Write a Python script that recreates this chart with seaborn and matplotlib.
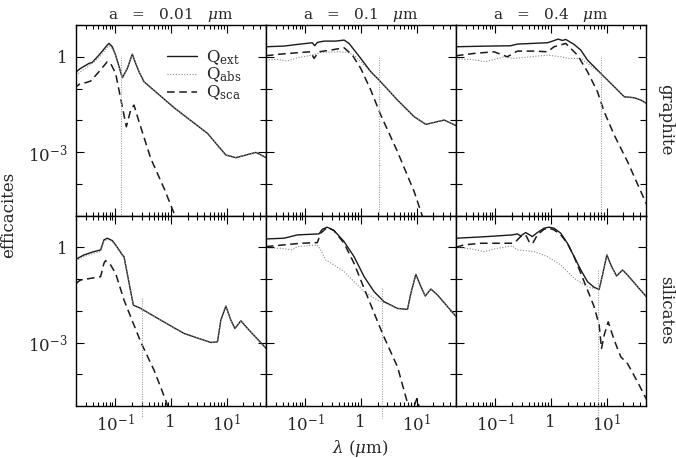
import numpy as np
import matplotlib
matplotlib.use("Agg")
import matplotlib.pyplot as plt
import matplotlib.transforms as mtrans
from matplotlib.lines import Line2D
from matplotlib.ticker import FixedLocator, FixedFormatter, LogLocator, NullFormatter
import seaborn as sns

# ---------------- data: log10(lambda / um) and log10(Q) ----------------
# graphite, a = 0.01 um
g1_ext_lx = [-1.737,-1.617,-1.467,-1.407,-1.287,-1.138,-1.108,-1.048,-0.988,-0.868,-0.778,-0.689,-0.629,-0.569,-0.479,0.060,0.659,0.988,1.168,1.347,1.527,1.713]
g1_ext_ly = [-0.525,-0.367,-0.210,-0.178,0.052,0.367,0.420,0.315,0.052,-0.661,-0.367,0.084,-0.210,-0.472,-0.787,-1.605,-2.413,-3.095,-3.179,-3.095,-3.012,-3.179]
g1_abs_lx = [-1.737,-1.617,-1.467,-1.287,-1.138,-1.108,-1.048,-0.988,-0.868,-0.778,-0.689,-0.629,-0.569,-0.479,0.060,0.659,0.988,1.168,1.347,1.527,1.713]
g1_abs_ly = [-0.630,-0.472,-0.283,-0.031,0.283,0.346,0.262,0.031,-0.672,-0.372,0.079,-0.215,-0.477,-0.790,-1.605,-2.413,-3.095,-3.179,-3.095,-3.012,-3.179]
g1_sca_lx = [-1.737,-1.617,-1.527,-1.437,-1.287,-1.138,-1.078,-0.988,-0.898,-0.796,-0.719,-0.659,-0.569,-0.359,-0.120,0.060,0.120]
g1_sca_ly = [-0.997,-0.839,-0.818,-0.766,-0.472,-0.157,-0.210,-0.525,-1.312,-2.204,-1.679,-1.522,-2.046,-3.200,-4.145,-4.932,-5.247]

# graphite, a = 0.1 um
g2_ext_lx = [-1.70,-1.377,-1.138,-0.868,-0.826,-0.778,-0.659,-0.449,-0.299,-0.210,0.0,0.180,0.329,0.659,0.958,1.168,1.317,1.497,1.713]
g2_ext_ly = [0.315,0.336,0.388,0.441,0.346,0.451,0.493,0.493,0.525,0.420,-0.052,-0.472,-0.735,-1.364,-1.889,-2.130,-2.067,-1.994,-2.172]
g2_abs_lx = [-1.70,-1.497,-1.317,-1.138,-0.868,-0.719,-0.419,-0.240,-0.120,0.060,0.180,0.329,0.659,0.958,1.168,1.317,1.497,1.713]
g2_abs_ly = [-0.105,-0.084,-0.136,-0.031,0.052,0.136,0.157,0.136,0.052,-0.262,-0.493,-0.740,-1.364,-1.889,-2.130,-2.067,-1.994,-2.172]
g2_sca_lx = [-1.70,-1.437,-1.138,-0.898,-0.838,-0.749,-0.539,-0.299,-0.150,0.0,0.180,0.359,0.659,0.958,1.090,1.138]
g2_sca_ly = [0.031,0.084,0.126,0.157,-0.052,0.157,0.210,0.283,0.052,-0.367,-1.049,-1.836,-2.991,-4.250,-4.942,-5.194]

# graphite, a = 0.4 um
g3_ext_lx = [-1.70,-1.138,-0.719,-0.599,-0.060,0.0,0.132,0.210,0.269,0.419,0.539,0.659,0.898,1.138,1.317,1.497,1.617,1.713]
g3_ext_ly = [0.315,0.336,0.346,0.399,0.441,0.472,0.556,0.514,0.546,0.388,0.210,-0.105,-0.525,-0.944,-1.259,-1.291,-1.364,-1.469]
g3_abs_lx = [-1.70,-1.437,-1.168,-0.838,-0.659,-0.060,0.180,0.299,0.539,0.659,0.898,1.138,1.317,1.497,1.617,1.713]
g3_abs_ly = [-0.073,-0.084,-0.157,0.0,-0.052,0.052,0.0,-0.052,-0.052,-0.210,-0.530,-0.944,-1.259,-1.291,-1.364,-1.469]
g3_sca_lx = [-1.70,-1.377,-1.018,-0.778,-0.599,-0.299,-0.060,0.060,0.269,0.329,0.479,0.659,0.838,0.958,1.138,1.377,1.617,1.737]
g3_sca_ly = [0.031,0.105,0.157,0.0,0.178,0.178,0.157,0.315,0.420,0.315,0.052,-0.472,-1.102,-1.731,-2.466,-3.305,-4.250,-4.722]

# silicates, a = 0.01 um
s1_ext_lx = [-1.70,-1.557,-1.377,-1.257,-1.198,-1.138,-1.048,-0.988,-0.868,-0.838,-0.671,-0.539,-0.180,0.240,0.719,0.838,0.898,0.988,1.078,1.150,1.257,1.377,1.713]
s1_ext_ly = [-0.379,-0.242,-0.137,-0.084,0.232,0.284,0.211,0.074,-0.242,-0.295,-1.821,-1.926,-2.295,-2.716,-3.0,-2.979,-2.295,-1.853,-2.295,-2.558,-2.316,-2.558,-3.189]
s1_abs_lx = [-1.70,-1.557,-1.377,-1.257,-1.198,-1.138,-1.048,-0.988,-0.868,-0.838,-0.671,-0.539,-0.180,0.240,0.719,0.838,0.898,0.988,1.078,1.150,1.257,1.377,1.713]
s1_abs_ly = [-0.432,-0.295,-0.189,-0.137,0.179,0.253,0.179,0.053,-0.263,-0.300,-1.821,-1.926,-2.295,-2.716,-3.0,-2.979,-2.295,-1.853,-2.295,-2.558,-2.316,-2.558,-3.189]
s1_sca_lx = [-1.70,-1.617,-1.437,-1.257,-1.198,-1.168,-1.078,-0.988,-0.838,-0.539,-0.299,-0.090,-0.030]
s1_sca_ly = [-1.137,-1.032,-0.979,-0.926,-0.505,-0.421,-0.558,-0.821,-1.663,-2.979,-3.874,-4.821,-5.137]

# silicates, a = 0.1 um
s2_ext_lx = [-1.70,-1.377,-1.138,-0.749,-0.689,-0.599,-0.479,-0.299,-0.120,0.060,0.240,0.419,0.659,0.838,0.898,0.988,1.066,1.156,1.257,1.377,1.713]
s2_ext_ly = [0.263,0.284,0.389,0.421,0.568,0.632,0.526,0.179,-0.295,-0.926,-1.400,-1.716,-1.926,-1.958,-1.453,-0.853,-1.189,-1.537,-1.316,-1.505,-2.189]
s2_abs_lx = [-1.70,-1.437,-1.228,-1.138,-0.778,-0.719,-0.629,-0.479,-0.299,-0.120,0.060,0.299,0.419,0.659,0.838,0.898,0.988,1.066,1.156,1.257,1.377,1.713]
s2_abs_ly = [-0.032,-0.032,-0.084,0.021,0.074,-0.084,-0.400,-0.558,-0.768,-1.084,-1.400,-1.663,-1.747,-1.926,-1.958,-1.453,-0.853,-1.189,-1.537,-1.316,-1.505,-2.189]
s2_sca_lx = [-1.70,-1.257,-1.078,-0.778,-0.719,-0.599,-0.479,-0.299,-0.120,0.060,0.389,0.659,0.850,0.928,1.006,1.066]
s2_sca_ly = [0.021,0.095,0.126,0.147,0.442,0.632,0.526,0.126,-0.505,-1.295,-2.716,-3.768,-4.979,-5.137,-4.768,-5.137]

# silicates, a = 0.4 um
s3_ext_lx = [-1.70,-1.138,-0.689,-0.599,-0.539,-0.449,-0.329,-0.240,-0.120,-0.030,0.060,0.180,0.299,0.419,0.539,0.659,0.778,0.868,0.928,1.006,1.078,1.180,1.287,1.377,1.557,1.725]
s3_ext_ly = [0.284,0.337,0.389,0.421,0.358,0.463,0.337,0.463,0.600,0.632,0.600,0.442,0.126,-0.295,-0.716,-1.084,-1.263,-1.326,-0.874,-0.242,-0.558,-0.905,-0.716,-0.874,-1.242,-1.579]
s3_abs_lx = [-1.70,-1.377,-1.198,-0.958,-0.689,-0.599,-0.299,-0.060,0.180,0.419,0.659,0.838,0.868,0.928,1.006,1.078,1.180,1.287,1.377,1.557,1.725]
s3_abs_ly = [0.0,-0.063,-0.137,-0.032,0.042,-0.084,-0.137,-0.295,-0.558,-0.979,-1.242,-1.320,-1.326,-0.874,-0.242,-0.558,-0.905,-0.716,-0.874,-1.242,-1.579]
s3_sca_lx = [-1.70,-1.557,-1.257,-0.958,-0.689,-0.629,-0.539,-0.449,-0.389,-0.329,-0.240,-0.120,-0.030,0.060,0.180,0.299,0.419,0.539,0.659,0.778,0.868,0.910,0.958,1.030,1.138,1.257,1.377,1.557,1.725]
s3_sca_ly = [0.0,0.074,0.126,0.126,0.126,0.179,0.337,0.389,0.179,0.105,0.389,0.568,0.600,0.547,0.389,0.126,-0.295,-0.821,-1.347,-1.874,-2.453,-3.189,-2.768,-2.347,-2.926,-3.453,-3.663,-4.242,-4.821]

sizes = ["0.01", "0.1", "0.4"]
materials = ["graphite", "silicates"]
series_labels = [r"Q$_{\rm ext}$", r"Q$_{\rm abs}$", r"Q$_{\rm sca}$"]

# vertical marker lines: wavelength (um) and the Q level where they start
vline_lam = [0.126, 2.13, 8.1, 0.30, 2.45, 6.9]
vline_qstart = [1.0, 1.0, 1.0, 0.0245, 0.054, 0.19]

xticks = [0.1, 1, 10]
xtick_labels = [r"10$^{-1}$", "1", r"10$^{1}$"]
yticks = [1e-3, 1]
ytick_labels = [r"10$^{-3}$", "1"]

panels = [
    [(g1_ext_lx, g1_ext_ly), (g1_abs_lx, g1_abs_ly), (g1_sca_lx, g1_sca_ly)],
    [(g2_ext_lx, g2_ext_ly), (g2_abs_lx, g2_abs_ly), (g2_sca_lx, g2_sca_ly)],
    [(g3_ext_lx, g3_ext_ly), (g3_abs_lx, g3_abs_ly), (g3_sca_lx, g3_sca_ly)],
    [(s1_ext_lx, s1_ext_ly), (s1_abs_lx, s1_abs_ly), (s1_sca_lx, s1_sca_ly)],
    [(s2_ext_lx, s2_ext_ly), (s2_abs_lx, s2_abs_ly), (s2_sca_lx, s2_sca_ly)],
    [(s3_ext_lx, s3_ext_ly), (s3_abs_lx, s3_abs_ly), (s3_sca_lx, s3_sca_ly)],
]

# ---------------- styling ----------------
sns.set_style("ticks")
plt.rcParams["font.family"] = ["DejaVu Serif"]
plt.rcParams["mathtext.fontset"] = "dejavuserif"

styles = [
    dict(color="#1a1a1a", linewidth=1.0, linestyle="-"),
    dict(color="#8a8a8a", linewidth=0.8, linestyle=(0, (1, 1.5))),
    dict(color="#1a1a1a", linewidth=1.1, linestyle=(0, (5, 3))),
]

fig, axes = plt.subplots(2, 3, figsize=(6.76, 4.58), dpi=100, sharex=True, sharey=True)
fig.subplots_adjust(left=0.1124, right=0.9556, bottom=0.1135, top=0.9454, wspace=0, hspace=0)

for i, ax in enumerate(axes.flat):
    for (lx, ly), st in zip(panels[i], styles):
        sns.lineplot(x=10 ** np.array(lx), y=10 ** np.array(ly), ax=ax, sort=False,
                     estimator=None, legend=False, **st)
    ax.set_xscale("log")
    ax.set_yscale("log")
    ax.set_xlim(0.02, 51)
    ax.set_ylim(1e-5, 10)
    # vertical marker line
    trans = mtrans.blended_transform_factory(ax.transData, ax.transAxes)
    y0 = (np.log10(vline_qstart[i]) + 5) / 6
    ax.plot([vline_lam[i], vline_lam[i]], [y0, -0.065], transform=trans, clip_on=False,
            color="#a0a0a0", linewidth=0.8, linestyle=(0, (1, 1.2)))
    for sp in ax.spines.values():
        sp.set_linewidth(1.0)
        sp.set_color("black")
    ax.set_xlabel("")
    ax.set_ylabel("")

ax0 = axes[0, 0]
ax0.xaxis.set_major_locator(FixedLocator(xticks))
ax0.xaxis.set_major_formatter(FixedFormatter(xtick_labels))
ax0.xaxis.set_minor_locator(LogLocator(base=10, subs=np.arange(2, 10)))
ax0.xaxis.set_minor_formatter(NullFormatter())
ax0.yaxis.set_major_locator(FixedLocator(yticks))
ax0.yaxis.set_major_formatter(FixedFormatter(ytick_labels))
ax0.yaxis.set_minor_locator(FixedLocator([1e-4, 1e-2, 1e-1, 10]))
ax0.yaxis.set_minor_formatter(NullFormatter())

for ax in axes.flat:
    ax.tick_params(which="both", direction="in", top=True, right=True, width=0.8,
                   color="black", labelsize=12, pad=6)
    ax.tick_params(which="major", length=5.5)
    ax.tick_params(axis="x", which="minor", length=3)
    ax.tick_params(axis="y", which="minor", length=4.5)
    ax.label_outer()

for j, a in enumerate(sizes):
    axes[0, j].set_title("a   =   " + a + r"   $\mu$m", fontsize=11, pad=4)

# legend in the first panel
handles = [Line2D([], [], **st) for st in styles]
ax0.legend(handles, series_labels, loc="upper left", bbox_to_anchor=(0.48, 0.88),
           frameon=False, fontsize=12, handlelength=1.8, handletextpad=0.5,
           labelspacing=-0.05, borderpad=0, borderaxespad=0)

fig.text(0.984, 0.739, materials[0], rotation=270, ha="center", va="center", fontsize=12)
fig.text(0.984, 0.323, materials[1], rotation=270, ha="center", va="center", fontsize=12)
fig.text(0.013, 0.531, "efficacites", rotation=90, ha="center", va="center", fontsize=12)
fig.text(0.533, 0.010, r"$\lambda$ ($\mu$m)", ha="center", va="baseline", fontsize=12)

fig.savefig("out.png", dpi=100)
